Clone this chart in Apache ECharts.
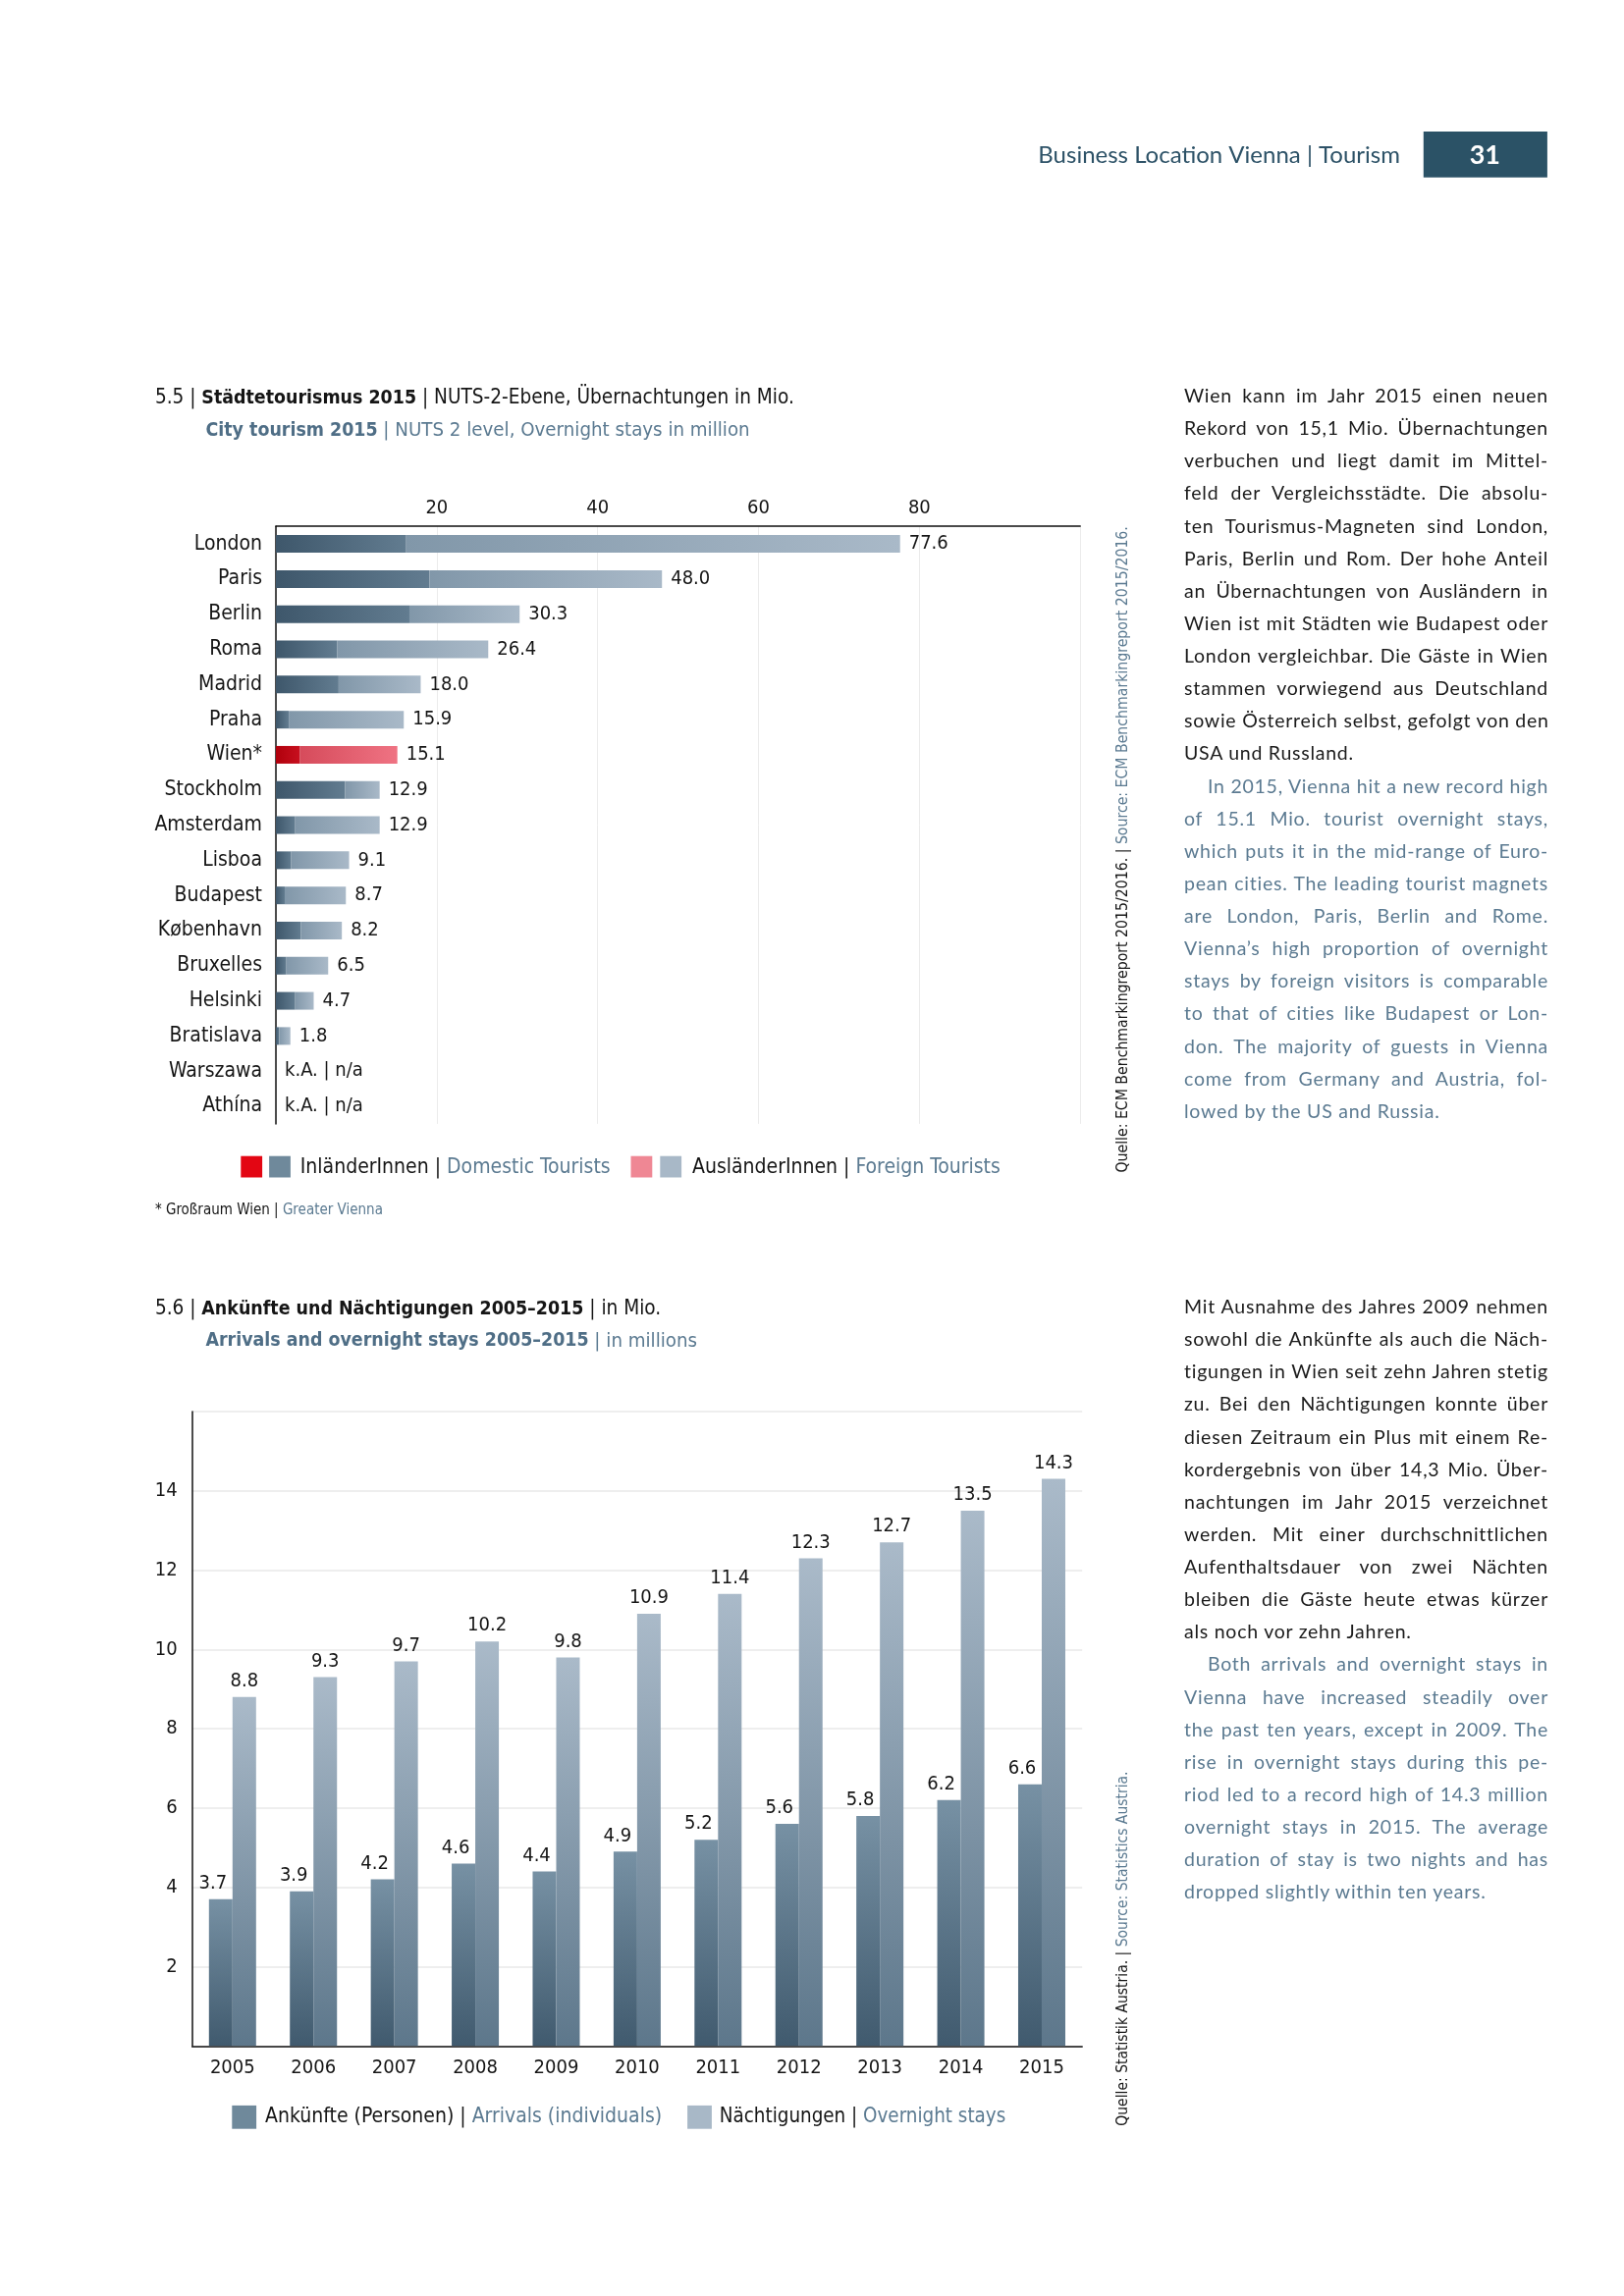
<!DOCTYPE html>
<html><head><meta charset="utf-8">
<script src="https://cdn.jsdelivr.net/npm/echarts@6/dist/echarts.min.js"></script>
<style>
html,body{margin:0;padding:0;background:#fff;}
#chart{position:absolute;left:0;top:0;width:1654px;height:2339px;}
.col{position:absolute;left:1206px;width:371px;font-family:Lato,'Open Sans',sans-serif;font-size:19.5px;line-height:33.13px;letter-spacing:0.75px;}
.col div{white-space:nowrap;text-align:justify;text-align-last:justify;}
.col div.last{text-align-last:left;}
.de{color:#1b1b1b}
.en{color:#5b7a91}
.col div.ind{text-indent:24px}
</style>
</head><body>
<div id="chart"></div>
<div class="col" id="col1" style="top:386px"></div>
<div class="col" id="col2" style="top:1314px"></div>
<script>
// ---------- DATA ----------
const cities = ['London','Paris','Berlin','Roma','Madrid','Praha','Wien*','Stockholm','Amsterdam','Lisboa','Budapest','København','Bruxelles','Helsinki','Bratislava','Warszawa','Athína'];
const domestic = [16.2,19.1,16.6,7.6,7.8,1.6,3.0,8.6,2.4,1.9,1.1,3.1,1.3,2.4,0.4,null,null];
const foreign  = [61.4,28.9,13.7,18.8,10.2,14.3,12.1,4.3,10.5,7.2,7.6,5.1,5.2,2.3,1.4,0,0];
const totalLabels = ['77.6','48.0','30.3','26.4','18.0','15.9','15.1','12.9','12.9','9.1','8.7','8.2','6.5','4.7','1.8','k.A. | n/a','k.A. | n/a'];
const xTicks1 = [20,40,60,80];

const years = ['2005','2006','2007','2008','2009','2010','2011','2012','2013','2014','2015'];
const arrivals = [3.7,3.9,4.2,4.6,4.4,4.9,5.2,5.6,5.8,6.2,6.6];
const nights   = [8.8,9.3,9.7,10.2,9.8,10.9,11.4,12.3,12.7,13.5,14.3];
const yTicks2 = [2,4,6,8,10,12,14];

const text1 = [
 ['de','Wien kann im Jahr 2015 einen neuen'],
 ['de','Rekord von 15,1 Mio. Übernachtungen'],
 ['de','verbuchen und liegt damit im Mittel-'],
 ['de','feld der Vergleichsstädte. Die absolu-'],
 ['de','ten Tourismus-Magneten sind London,'],
 ['de','Paris, Berlin und Rom. Der hohe Anteil'],
 ['de','an Übernachtungen von Ausländern in'],
 ['de','Wien ist mit Städten wie Budapest oder'],
 ['de','London vergleichbar. Die Gäste in Wien'],
 ['de','stammen vorwiegend aus Deutschland'],
 ['de','sowie Österreich selbst, gefolgt von den'],
 ['de last','USA und Russland.'],
 ['en ind','In 2015, Vienna hit a new record high'],
 ['en','of 15.1 Mio. tourist overnight stays,'],
 ['en','which puts it in the mid-range of Euro-'],
 ['en','pean cities. The leading tourist magnets'],
 ['en','are London, Paris, Berlin and Rome.'],
 ['en','Vienna’s high proportion of overnight'],
 ['en','stays by foreign visitors is comparable'],
 ['en','to that of cities like Budapest or Lon-'],
 ['en','don. The majority of guests in Vienna'],
 ['en','come from Germany and Austria, fol-'],
 ['en last','lowed by the US and Russia.']
];
const text2 = [
 ['de','Mit Ausnahme des Jahres 2009 nehmen'],
 ['de','sowohl die Ankünfte als auch die Näch-'],
 ['de','tigungen in Wien seit zehn Jahren stetig'],
 ['de','zu. Bei den Nächtigungen konnte über'],
 ['de','diesen Zeitraum ein Plus mit einem Re-'],
 ['de','kordergebnis von über 14,3 Mio. Über-'],
 ['de','nachtungen im Jahr 2015 verzeichnet'],
 ['de','werden. Mit einer durchschnittlichen'],
 ['de','Aufenthaltsdauer von zwei Nächten'],
 ['de','bleiben die Gäste heute etwas kürzer'],
 ['de last','als noch vor zehn Jahren.'],
 ['en ind','Both arrivals and overnight stays in'],
 ['en','Vienna have increased steadily over'],
 ['en','the past ten years, except in 2009. The'],
 ['en','rise in overnight stays during this pe-'],
 ['en','riod led to a record high of 14.3 million'],
 ['en','overnight stays in 2015. The average'],
 ['en','duration of stay is two nights and has'],
 ['en last','dropped slightly within ten years.']
];

function fillCol(id, lines){
  const el = document.getElementById(id);
  lines.forEach(([cls,t])=>{const d=document.createElement('div');d.className=cls;d.textContent=t;el.appendChild(d);});
}
fillCol('col1', text1); fillCol('col2', text2);

// ---------- CHART ----------
const S = 0.993;
const s = v => Math.round(v*S*10)/10;
const F = "'DejaVu Sans Condensed','Liberation Sans Narrow',sans-serif";
const BLK = '#151515', BLUE = '#5b7a91', BBLUE = '#4f6e86';
function hgrad(a,b){return new echarts.graphic.LinearGradient(0,0,1,0,[{offset:0,color:a},{offset:1,color:b}]);}
function vgrad(top,bot){return new echarts.graphic.LinearGradient(0,0,0,1,[{offset:0,color:top},{offset:1,color:bot}]);}

const chart = echarts.init(document.getElementById('chart'), null, {renderer:'canvas'});

const domData = cities.map((c,i)=>({value:domestic[i], itemStyle:{color: c==='Wien*'? hgrad('#b0000c','#c8101f') : hgrad('#3e576b','#627c90')}}));
const forData = cities.map((c,i)=>({value:foreign[i], itemStyle:{color: c==='Wien*'? hgrad('#d64b5b','#ef7383') : hgrad('#8197a9','#a9b9c8')}}));

// parts: [text, color, weight, size]
function rtext(x,y,parts,size,opts){
  const rich={}; let str='';
  parts.forEach((p,i)=>{rich['r'+i]={fontSize:p[3]||size,fontFamily:F,fill:p[1],fontWeight:p[2]||'normal'}; str+='{r'+i+'|'+p[0]+'}';});
  return Object.assign({type:'text',x:s(x),y:s(y),style:{text:str,rich:rich,align:'left',verticalAlign:'middle'}},opts||{});
}
function rect(x,y,w,h,fill){return {type:'rect', shape:{x:s(x),y:s(y),width:s(w),height:s(h)}, style:{fill:fill}};}

const option = {
  backgroundColor:'#fff',
  animation:false,
  grid:[
    {left:s(283), top:s(540), width:s(825), height:s(613), containLabel:false, outerBoundsMode:'none'},
    {left:s(197), top:s(1448), width:s(913), height:s(651), containLabel:false, outerBoundsMode:'none'}
  ],
  xAxis:[
    {gridIndex:0, type:'value', position:'top', min:0, max:100, interval:20,
     axisLine:{show:true, lineStyle:{color:'#111', width:1.5}}, axisTick:{show:false},
     axisLabel:{margin:8, fontSize:20, fontFamily:F, color:BLK, formatter:v=> xTicks1.includes(v)? String(v):''},
     splitLine:{show:true, lineStyle:{color:'#ebebeb', width:1}}},
    {gridIndex:1, type:'category', data:years,
     axisLine:{show:true, lineStyle:{color:'#111', width:1.5}}, axisTick:{show:false},
     axisLabel:{margin:12, fontSize:20, fontFamily:F, color:BLK}}
  ],
  yAxis:[
    {gridIndex:0, type:'category', data:cities, inverse:true,
     axisLine:{show:true, lineStyle:{color:'#111', width:1.5}}, axisTick:{show:false},
     axisLabel:{margin:14, fontSize:21, fontFamily:F, color:BLK}},
    {gridIndex:1, type:'value', min:0, max:16, interval:2,
     axisLine:{show:true, lineStyle:{color:'#111', width:1.5}}, axisTick:{show:false},
     axisLabel:{margin:15, fontSize:20, fontFamily:F, color:BLK, formatter:v=> yTicks2.includes(v)? String(v):''},
     splitLine:{show:true, lineStyle:{color:'#e8e8e8', width:1.5}}}
  ],
  series:[
    {type:'bar', name:'domestic', xAxisIndex:0, yAxisIndex:0, stack:'c', barWidth:18, data:domData},
    {type:'bar', name:'foreign', xAxisIndex:0, yAxisIndex:0, stack:'c', barWidth:18, data:forData,
     label:{show:true, position:'right', distance:9, fontSize:20, fontFamily:F, color:BLK,
            formatter:p=> totalLabels[p.dataIndex]}},
    {type:'bar', name:'arrivals', xAxisIndex:1, yAxisIndex:1, barWidth:24, barGap:'0%',
     data:arrivals, itemStyle:{color:vgrad('#7791a4','#405a6e')},
     label:{show:true, position:'top', distance:6, offset:[-8,0], fontSize:20, fontFamily:F, color:BLK, formatter:p=>p.value.toFixed(1)}},
    {type:'bar', name:'nights', xAxisIndex:1, yAxisIndex:1, barWidth:24, barGap:'0%',
     data:nights, itemStyle:{color:vgrad('#aabac9','#5d778b')},
     label:{show:true, position:'top', distance:6, fontSize:20, fontFamily:F, color:BLK, formatter:p=>p.value.toFixed(1)}}
  ],
  graphic:[
    // header
    {type:'text', x:s(1436), y:s(159), style:{text:'Business Location Vienna | Tourism', fontSize:24, fontFamily:"Lato,'Open Sans',sans-serif", fill:'#2d5267', align:'right', verticalAlign:'middle'}},
    rect(1460,135,127,47,'#2b5266'),
    {type:'text', x:s(1523), y:s(159), style:{text:'31', fontSize:27, fontWeight:'bold', fontFamily:"Lato,'Open Sans',sans-serif", fill:'#fff', align:'center', verticalAlign:'middle'}},
    // chart 1 titles
    rtext(159,409,[['5.5 | ',BLK],['Städtetourismus 2015',BLK,'bold',19.4],[' | NUTS-2-Ebene, Übernachtungen in Mio.',BLK]],20.6),
    rtext(211,442,[['City tourism 2015',BBLUE,'bold',19.4],[' | NUTS 2 level, Overnight stays in million',BLUE]],20.3),
    // legend 1
    rect(247,1186,22,22,'#e30613'),
    rect(276,1186,22,22,'#6f899b'),
    rtext(308,1198,[['InländerInnen | ',BLK],['Domestic Tourists',BLUE]],21),
    rect(647,1186,22,22,'#ef8794'),
    rect(677,1186,22,22,'#a8b8c7'),
    rtext(710,1198,[['AusländerInnen | ',BLK],['Foreign Tourists',BLUE]],21),
    rtext(159,1242,[['* Großraum Wien | ',BLK],['Greater Vienna',BLUE]],15),
    rtext(1152,1203,[['Quelle: ECM Benchmarkingreport 2015/2016. | ',BLK],['Source: ECM Benchmarkingreport 2015/2016.',BLUE]],15.7,{rotation:Math.PI/2}),
    // chart 2 titles
    rtext(159,1343,[['5.6 | ',BLK],['Ankünfte und Nächtigungen 2005–2015',BLK,'bold',19.4],[' | in Mio.',BLK]],20.6),
    rtext(211,1376,[['Arrivals and overnight stays 2005–2015',BBLUE,'bold',19.4],[' | in millions',BLUE]],20.3),
    // legend 2
    rect(238,2160,25,24,'#6f899b'),
    rtext(272,2172,[['Ankünfte (Personen) | ',BLK],['Arrivals (individuals)',BLUE]],21),
    rect(705,2160,25,24,'#a8b8c7'),
    rtext(738,2172,[['Nächtigungen | ',BLK],['Overnight stays',BLUE]],20.4),
    rtext(1152,2181,[['Quelle: Statistik Austria. | ',BLK],['Source: Statistics Austria.',BLUE]],15.5,{rotation:Math.PI/2})
  ]
};
chart.setOption(option);
</script>
</body></html>
